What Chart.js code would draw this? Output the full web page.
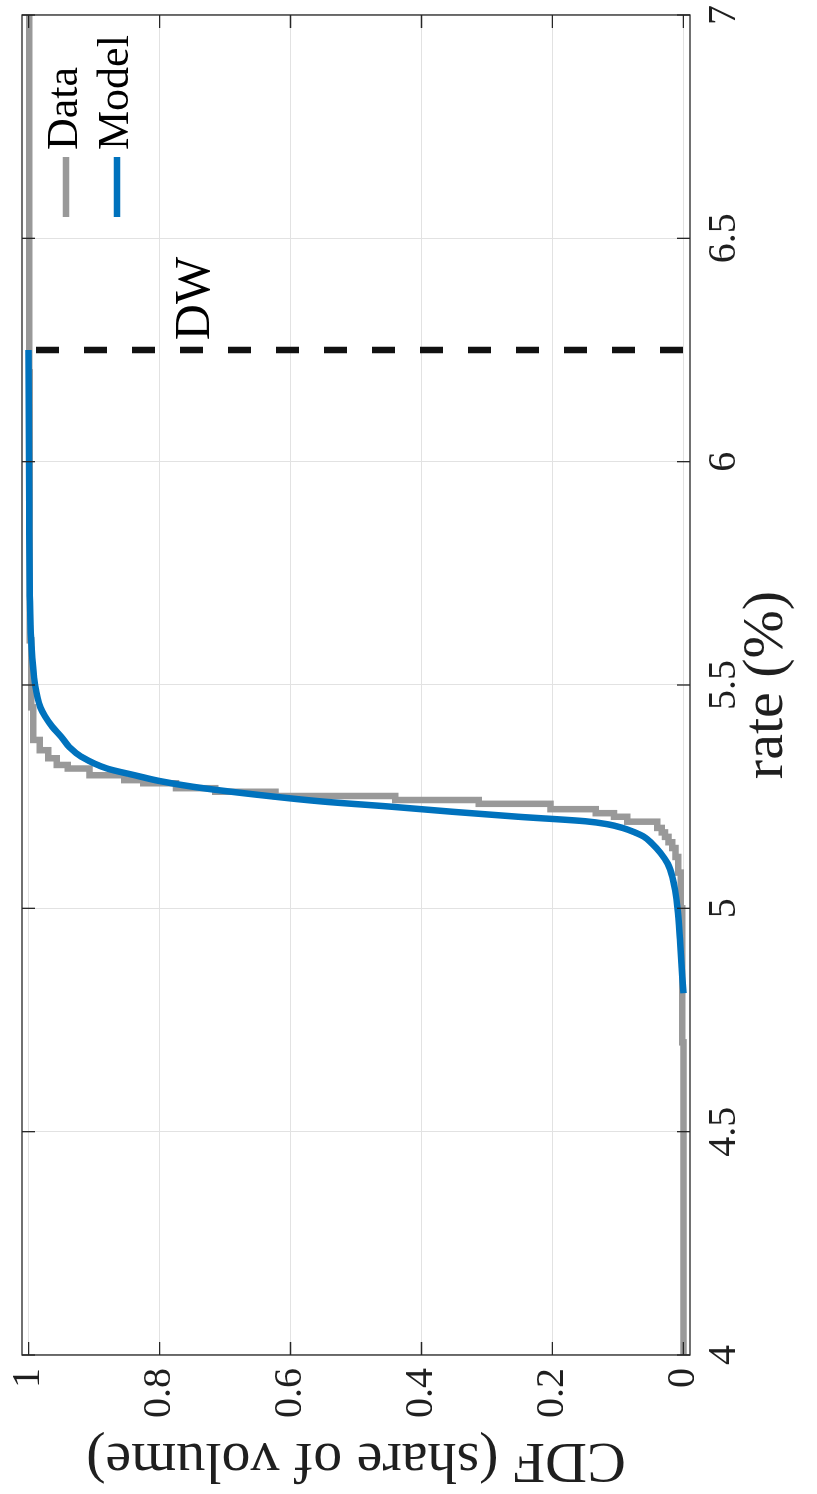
<!DOCTYPE html>
<html>
<head>
<meta charset="utf-8">
<script src="https://cdn.jsdelivr.net/npm/chart.js"></script>
<style>
html,body{margin:0;padding:0;background:#fff;overflow:hidden;}
/* chart is drawn landscape, then turned a quarter to the left */
#wrap{position:absolute;left:0;top:0;width:1494px;height:817px;transform-origin:0 0;transform:translate(0,1494px) rotate(-90deg);}
</style>
</head>
<body>
<div id="wrap"><canvas id="cdf" width="1494" height="817"></canvas></div>
<script>
// ticks
const rateTicks = [4, 4.5, 5, 5.5, 6, 6.5, 7]
const cdfTicks = [0, 0.2, 0.4, 0.6, 0.8, 1]

// empirical cdf (step)
const dataRate = [4.00, 4.70, 5.00, 5.08, 5.115, 5.135, 5.148, 5.16, 5.17, 5.18, 5.194, 5.205, 5.213, 5.222, 5.234,
    5.2425, 5.2515, 5.261, 5.269, 5.28, 5.287, 5.298, 5.313, 5.321, 5.336, 5.354, 5.377, 5.45, 5.6, 6.2, 7.0]
const dataCdf = [0.000, 0.002, 0.004, 0.008, 0.012, 0.017, 0.023, 0.028, 0.033, 0.040, 0.086, 0.106, 0.134, 0.203, 0.3125,
    0.44, 0.623, 0.715, 0.775, 0.825, 0.854, 0.907, 0.94, 0.957, 0.970, 0.983, 0.993, 0.996, 0.998, 0.999, 1.0]

// model cdf
const modelRate = [4.81, 4.92, 5.00, 5.07, 5.10, 5.124, 5.145, 5.16, 5.171, 5.18, 5.188, 5.195, 5.205, 5.216, 5.228,
    5.239, 5.254, 5.272, 5.285, 5.297, 5.313, 5.34, 5.36, 5.384, 5.407, 5.43, 5.45, 5.5, 5.6, 5.7, 5.9, 6.25]
const modelCdf = [0.000, 0.005, 0.009, 0.017, 0.024, 0.035, 0.048, 0.060, 0.076, 0.093, 0.115, 0.150, 0.252, 0.351, 0.450,
    0.550, 0.649, 0.748, 0.800, 0.835, 0.880, 0.920, 0.937, 0.950, 0.964, 0.975, 0.982, 0.990, 0.996, 0.998, 0.999, 1.000]

// discount window rate
const dwRate = 6.25
const dwCdf = [1.01, -0.01]

const legendOrder = ['Data', 'Model']

const serif = '"Liberation Serif", "DejaVu Serif", serif'
const ink = '#1f1f1f'

function pts(xs, ys) {
    return xs.map(function (v, i) { return { x: v, y: ys[i] } })
}

// box, inner tick marks, DW text, legend
const frame = {
    id: 'frame',
    afterDatasetsDraw(chart) {
        const c = chart.ctx, a = chart.chartArea
        const xs = chart.scales.x, ys = chart.scales.y
        c.save()
        c.strokeStyle = '#262626'
        c.lineWidth = 1.3
        c.strokeRect(a.left, a.top, a.right - a.left, a.bottom - a.top)
        c.beginPath()
        rateTicks.forEach(function (v) {
            const p = xs.getPixelForValue(v)
            c.moveTo(p, a.bottom); c.lineTo(p, a.bottom - 13)
            c.moveTo(p, a.top); c.lineTo(p, a.top + 13)
        })
        cdfTicks.forEach(function (v) {
            const p = ys.getPixelForValue(v)
            c.moveTo(a.left, p); c.lineTo(a.left + 13, p)
            c.moveTo(a.right, p); c.lineTo(a.right - 13, p)
        })
        c.stroke()

        c.fillStyle = '#000'
        c.font = '50px ' + serif
        c.textBaseline = 'alphabetic'
        c.fillText('DW', xs.getPixelForValue(6.272), ys.getPixelForValue(0.725))

        // legend
        c.font = '44px ' + serif
        legendOrder.forEach(function (name, i) {
            const d = chart.data.datasets.find(function (s) { return s.label == name })
            const y = a.top + 44 + i * 51
            c.strokeStyle = d.borderColor
            c.lineWidth = 6.5
            c.beginPath()
            c.moveTo(a.right - 202, y); c.lineTo(a.right - 142, y)
            c.stroke()
            c.fillStyle = '#000'
            c.fillText(d.label, a.right - 135, y + 11)
        })
        c.restore()
    }
}

new Chart(document.getElementById('cdf'), {
    type: 'line',
    data: {
        datasets: [
            {
                data: pts([dwRate, dwRate], dwCdf),
                borderColor: '#111',
                borderWidth: 6.5,
                borderDash: [23, 25],
                borderDashOffset: 34,
                pointRadius: 0
            },
            {
                label: 'Model',
                data: pts(modelRate, modelCdf),
                borderColor: '#0072BD',
                borderWidth: 6.5,
                cubicInterpolationMode: 'monotone',
                pointRadius: 0
            },
            {
                label: 'Data',
                data: pts(dataRate, dataCdf),
                borderColor: '#999999',
                borderWidth: 6.5,
                stepped: 'before',
                pointRadius: 0
            }
        ]
    },
    options: {
        responsive: false,
        devicePixelRatio: 1,
        animation: false,
        events: [],
        layout: { padding: { left: 0, right: 15, top: 22, bottom: 0 } },
        plugins: { legend: { display: false }, tooltip: { enabled: false } },
        scales: {
            x: {
                type: 'linear',
                min: 4,
                max: 7,
                afterBuildTicks: function (s) { s.ticks = rateTicks.map(function (v) { return { value: v } }) },
                afterFit: function (s) { s.height = 127; s.paddingLeft = 0; s.paddingRight = 0 },
                grid: { color: '#e2e2e2', lineWidth: 1, drawTicks: false },
                border: { display: false },
                ticks: {
                    autoSkip: false, maxRotation: 0, padding: 14, color: ink,
                    font: { family: serif, size: 40, lineHeight: 1 },
                    callback: function (v) { return String(v) }
                },
                title: {
                    display: true, text: 'rate (%)', color: ink,
                    font: { family: serif, size: 58, lineHeight: 1.2 },
                    padding: { top: 0, bottom: 15 }
                }
            },
            y: {
                type: 'linear',
                min: -0.01,
                max: 1.01,
                afterBuildTicks: function (s) { s.ticks = cdfTicks.map(function (v) { return { value: v } }) },
                afterFit: function (s) { s.width = 139; s.paddingTop = 0; s.paddingBottom = 0 },
                grid: { color: '#e2e2e2', lineWidth: 1, drawTicks: false },
                border: { display: false },
                ticks: {
                    autoSkip: false, padding: 13, color: ink,
                    font: { family: serif, size: 40, lineHeight: 1 },
                    callback: function (v) { return String(v) }
                },
                title: {
                    display: true, text: 'CDF (share of volume)', color: ink,
                    font: { family: serif, size: 58, lineHeight: 1.2 },
                    padding: 0
                }
            }
        }
    },
    plugins: [frame]
})
</script>
</body>
</html>
